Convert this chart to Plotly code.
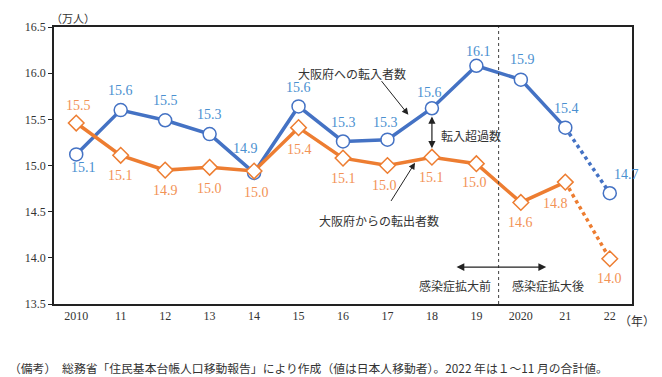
import plotly.graph_objects as go

years = ["2010", "11", "12", "13", "14", "15", "16", "17", "18", "19", "2020", "21", "22"]
inflow = [15.12, 15.60, 15.49, 15.34, 14.92, 15.64, 15.26, 15.28, 15.62, 16.08, 15.93, 15.41, 14.70]
outflow = [15.46, 15.11, 14.95, 14.98, 14.94, 15.41, 15.08, 15.00, 15.09, 15.02, 14.60, 14.82, 13.99]
inflow_labels = ["15.1", "15.6", "15.5", "15.3", "14.9", "15.6", "15.3", "15.3", "15.6", "16.1", "15.9", "15.4", "14.7"]
outflow_labels = ["15.5", "15.1", "14.9", "15.0", "15.0", "15.4", "15.1", "15.0", "15.1", "15.0", "14.6", "14.8", "14.0"]

# label pixel offsets (dx, dy; dy positive = down)
inflow_off = [(7, 13), (0, -20), (0, -20), (0, -20), (-9, -24), (0, -19), (0, -19), (-2, -17), (-2, -16),
              (2, -14), (2, -20), (1, -19), (17, -19)]
outflow_off = [(2, -18), (0, 20), (0, 20), (0, 21), (2, 21), (1, 22), (0, 20), (-3, 20), (0, 20), (-2, 19),
               (0, 20), (-10, 21), (0, 20)]

BLUE = "#4472C4"
ORANGE = "#ED7D31"
BLUE_T = "#4A90D0"
ORANGE_T = "#F29255"
SERIF = "Liberation Serif, DejaVu Serif, serif"
JP = "Noto Sans CJK JP"

x = list(range(len(years)))
fig = go.Figure()

# solid parts (2010-2021)
fig.add_trace(go.Scatter(x=x[:12], y=inflow[:12], mode="lines", line=dict(color=BLUE, width=3.5),
                         showlegend=False, hoverinfo="skip"))
fig.add_trace(go.Scatter(x=x[:12], y=outflow[:12], mode="lines", line=dict(color=ORANGE, width=3.5),
                         showlegend=False, hoverinfo="skip"))
# dotted parts (2021-2022)
fig.add_trace(go.Scatter(x=x[11:], y=inflow[11:], mode="lines", line=dict(color=BLUE, width=3.5, dash="dot"),
                         showlegend=False, hoverinfo="skip"))
fig.add_trace(go.Scatter(x=x[11:], y=outflow[11:], mode="lines", line=dict(color=ORANGE, width=3.5, dash="dot"),
                         showlegend=False, hoverinfo="skip"))
# markers
fig.add_trace(go.Scatter(x=x, y=inflow, mode="markers", cliponaxis=False,
                         marker=dict(symbol="circle", size=13, color="white", line=dict(color=BLUE, width=1.5)),
                         showlegend=False))
fig.add_trace(go.Scatter(x=x, y=outflow, mode="markers", cliponaxis=False,
                         marker=dict(symbol="diamond", size=12, color="white", line=dict(color=ORANGE, width=1.5)),
                         showlegend=False))

# vertical dashed divider
fig.add_shape(type="line", x0=9.5, x1=9.5, y0=13.5, y1=16.5, xref="x", yref="y",
              line=dict(color="#404040", width=1, dash="dot"))

ann = []
# data labels
for i, (v, t, (dx, dy)) in enumerate(zip(inflow, inflow_labels, inflow_off)):
    ann.append(dict(x=i, y=v, xref="x", yref="y", text=t, showarrow=False, xshift=dx, yshift=-dy,
                    font=dict(family=SERIF, size=14, color=BLUE_T)))
for i, (v, t, (dx, dy)) in enumerate(zip(outflow, outflow_labels, outflow_off)):
    ann.append(dict(x=i, y=v, xref="x", yref="y", text=t, showarrow=False, xshift=dx, yshift=-dy,
                    font=dict(family=SERIF, size=14, color=ORANGE_T)))

# horizontal double arrow
ann.append(dict(x=10.57, y=13.9, ax=8.52, ay=13.9, xref="x", yref="y", axref="x", ayref="y",
                showarrow=True, arrowhead=2, arrowside="end+start", arrowsize=1.3, arrowwidth=1.2,
                arrowcolor="#222", text=""))
ann.append(dict(x=8.52, y=13.7, text="感染症拡大前", showarrow=False, xref="x", yref="y",
                font=dict(family=JP, size=12, color="#333")))
ann.append(dict(x=10.6, y=13.7, text="感染症拡大後", showarrow=False, xref="x", yref="y",
                font=dict(family=JP, size=12, color="#333")))
# inflow label arrow
ann.append(dict(x=7.47, y=15.55, ax=6.84, ay=15.93, xref="x", yref="y", axref="x", ayref="y",
                showarrow=True, arrowhead=2, arrowsize=1.3, arrowwidth=1, arrowcolor="#222", text=""))
ann.append(dict(x=6.2, y=16.0, text="大阪府への転入者数", showarrow=False, xref="x", yref="y",
                font=dict(family=JP, size=12, color="#333")))
# net inflow double arrow
ann.append(dict(x=8.0, y=15.53, ax=8.0, ay=15.17, xref="x", yref="y", axref="x", ayref="y",
                showarrow=True, arrowhead=2, arrowside="end+start", arrowsize=1.2, arrowwidth=1.2,
                arrowcolor="#222", text=""))
ann.append(dict(x=8.17, y=15.32, text="転入超過数", showarrow=False, xref="x", yref="y", xanchor="left",
                font=dict(family=JP, size=12, color="#333")))
# outflow label arrow
ann.append(dict(x=7.62, y=15.03, ax=7.06, ay=14.6, xref="x", yref="y", axref="x", ayref="y",
                showarrow=True, arrowhead=2, arrowsize=1.3, arrowwidth=1, arrowcolor="#222", text=""))
ann.append(dict(x=6.8, y=14.4, text="大阪府からの転出者数", showarrow=False, xref="x", yref="y",
                font=dict(family=JP, size=12, color="#333")))
# unit labels
ann.append(dict(x=0, y=1.0, xref="paper", yref="paper", yanchor="bottom", xanchor="left", yshift=-1, xshift=-5,
                text="（万人）", showarrow=False, font=dict(family=JP, size=11, color="#333")))
ann.append(dict(x=12.17, y=13.5, xref="x", yref="y", yanchor="top", xanchor="left", yshift=-6,
                text="（年）", showarrow=False, font=dict(family=JP, size=12, color="#333")))
# footnote
ann.append(dict(x=0, y=0, xref="paper", yref="paper", yanchor="top", xanchor="left", xshift=-47, yshift=-53,
                text="（備考）　総務省「住民基本台帳人口移動報告」により作成（値は日本人移動者）。2022 年は１～11 月の合計値。",
                showarrow=False, font=dict(family=JP, size=11.8, color="#333")))

fig.update_layout(
    width=654, height=369,
    margin=dict(l=46, r=30, t=17, b=73),
    paper_bgcolor="white", plot_bgcolor="white",
    annotations=ann,
    xaxis=dict(range=[-0.5, 12.5], tickvals=x, ticktext=years, showgrid=False, zeroline=False,
               showline=True, linecolor="#222", linewidth=1.5, mirror=True, ticks="",
               tickfont=dict(family=SERIF, size=12, color="#333")),
    yaxis=dict(range=[13.5, 16.5], dtick=0.5, tickformat=".1f", showgrid=False, zeroline=False,
               showline=True, linecolor="#222", linewidth=1.5, mirror=True, ticks="outside", ticklen=4,
               tickcolor="#222", tickfont=dict(family=SERIF, size=12, color="#333")),
)

fig.write_html("out.html")
